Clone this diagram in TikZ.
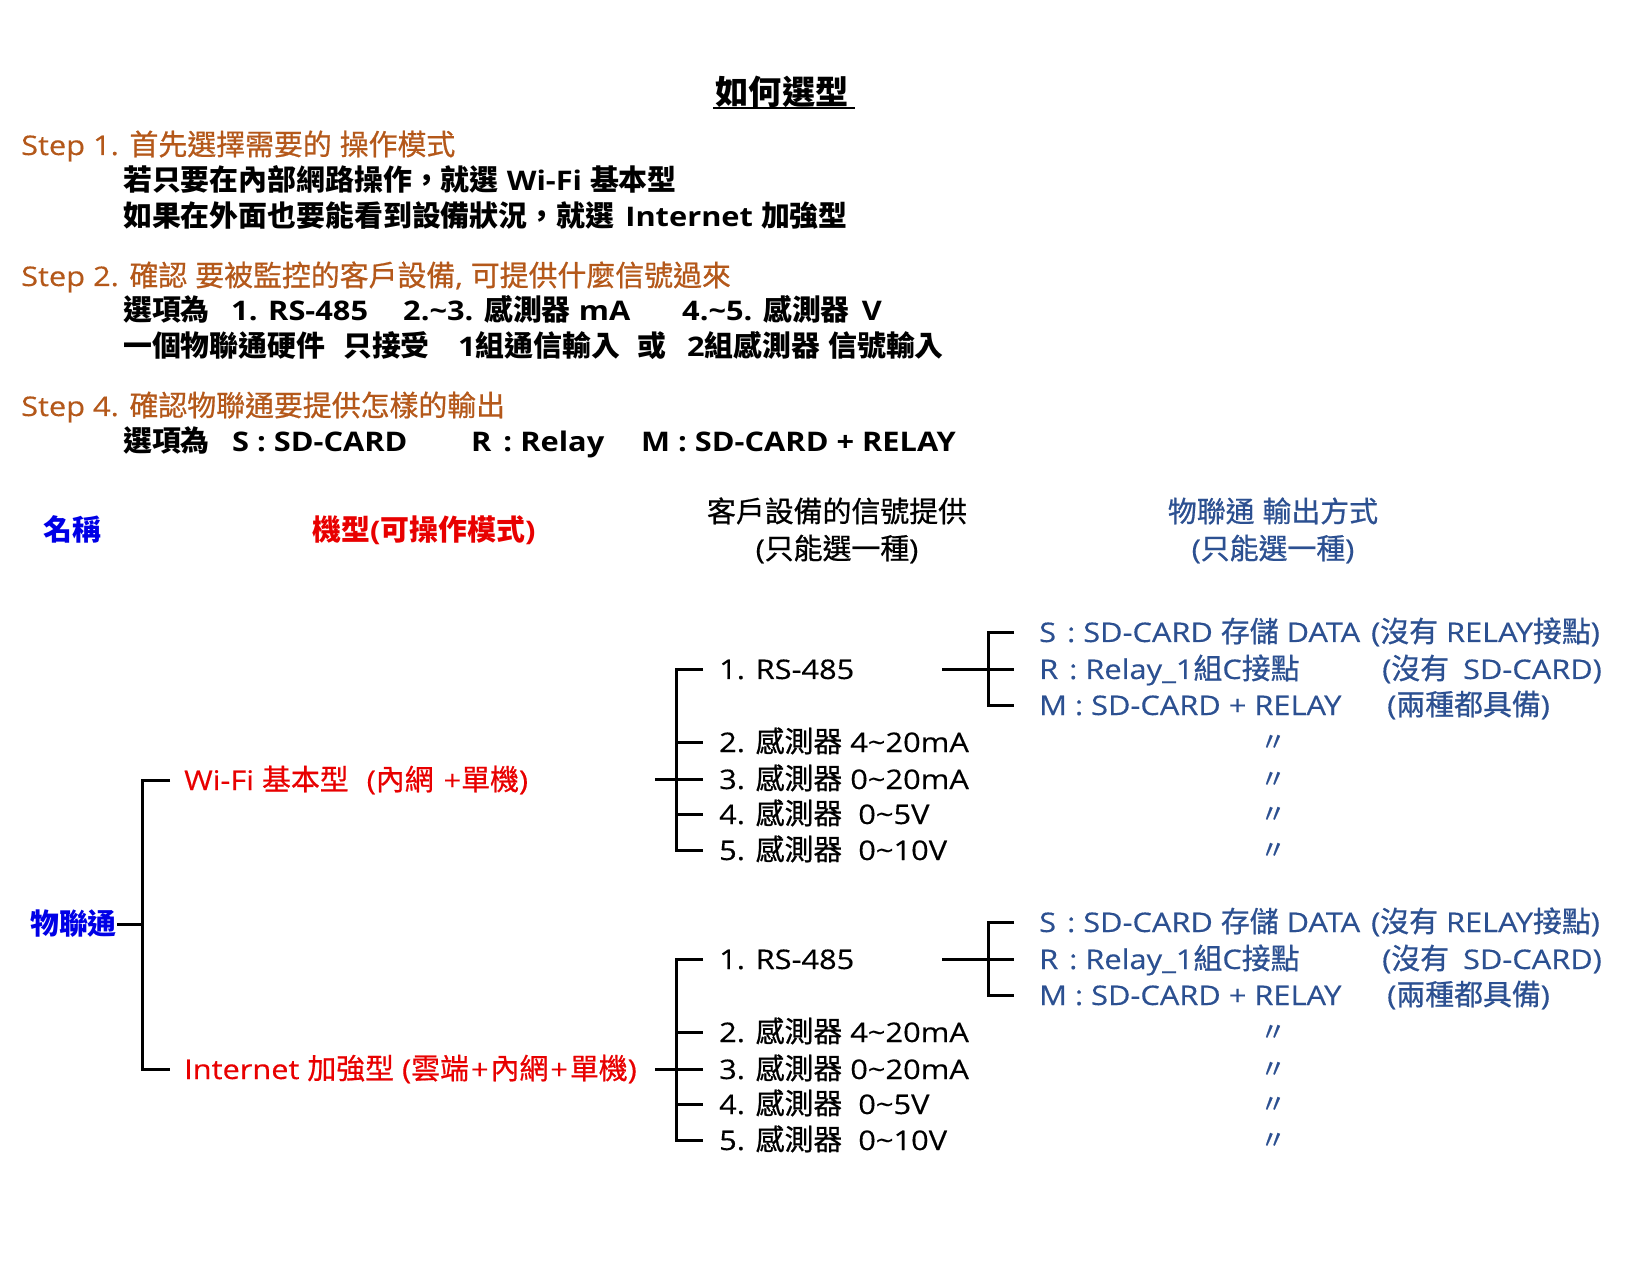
\documentclass[tikz,border=0pt]{standalone}
\usepackage{fontspec}
\setmainfont{Open Sans}[FakeStretch=1.14, UprightFeatures={FakeBold=0.4}]
\newfontfamily\cjkf{Noto Sans CJK TC}[Scale=1.07, UprightFeatures={FakeBold=0.7}]
\XeTeXinterchartokenstate=1
\newXeTeXintercharclass\CJKcls
\newcount\cjkcnt
\def\setcjkrange#1#2{\cjkcnt=#1\relax\loop\ifnum\cjkcnt<#2\relax\XeTeXcharclass\cjkcnt=\CJKcls\advance\cjkcnt by 1\relax\repeat}
\setcjkrange{"3000}{"3040}
\setcjkrange{"4E00}{"A000}
\setcjkrange{"FF00}{"FFF0}
\XeTeXinterchartoks 0 \CJKcls = {\cjkf}
\XeTeXinterchartoks 4095 \CJKcls = {\cjkf}
\XeTeXinterchartoks \CJKcls 0 = {\rmfamily}
\XeTeXinterchartoks \CJKcls 4095 = {\rmfamily}
\newcommand\fsz[1]{\fontsize{#1}{#1}\selectfont}
\definecolor{brn}{RGB}{180,88,26}
\definecolor{pblue}{RGB}{0,0,230}
\definecolor{pred}{RGB}{232,0,0}
\definecolor{sblue}{RGB}{44,80,145}
\tikzset{
  lt/.style={anchor=base west, inner sep=0pt, font=\fsz{#1}, yshift={-0.37*#1pt}},
  ltb/.style={anchor=base west, inner sep=0pt, font=\fsz{#1}\bfseries, yshift={-0.37*#1pt}},
  ct/.style={anchor=base, inner sep=0pt, font=\fsz{#1}, yshift={-0.37*#1pt}},
  ctb/.style={anchor=base, inner sep=0pt, font=\fsz{#1}\bfseries, yshift={-0.37*#1pt}},
  ln/.style={line width=3pt, line join=miter, black},
}
\begin{document}
\begin{tikzpicture}[x=1pt,y=-1pt]
\useasboundingbox[fill=white] (0,0) rectangle (1650,1275);
% title
\node[ctb=31] (title) at (782,93) {如何選型};
\coordinate (ulA) at (713,108);
\coordinate (ulB) at (855,108);
\draw[line width=2pt] (ulA) -- (ulB);
% steps
\node[lt=27, text=brn] (s1) at (21,145) {Step 1. 首先選擇需要的 操作模式};
\node[ltb=27] (s1a) at (123,181) {若只要在內部網路操作，就選 Wi-Fi 基本型};
\node[ltb=27] (s1b) at (123,217) {如果在外面也要能看到設備狀況，就選\hspace{11pt}Internet 加強型};
\node[lt=27, text=brn] (s2) at (21,276) {Step 2. 確認 要被監控的客戶設備, 可提供什麼信號過來};
\node[ltb=27] (s2a) at (123,311) {選項為};
\node[ltb=27] (s2b) at (231,311) {1. RS-485};
\node[ltb=27] (s2c) at (403,311) {2.\textasciitilde 3. 感測器 mA};
\node[ltb=27] (s2d) at (682,311) {4.\textasciitilde 5. 感測器\hspace{12pt}V};
\node[ltb=27] (s2e) at (123,347) {一個物聯通硬件};
\node[ltb=27] (s2f) at (343,347) {只接受};
\node[ltb=27] (s2g) at (458,347) {1組通信輸入};
\node[ltb=27] (s2h) at (637,347) {或};
\node[ltb=27] (s2i) at (687,347) {2組感測器 信號輸入};
\node[lt=27, text=brn] (s4) at (21,406) {Step 4. 確認物聯通要提供怎樣的輸出};
\node[ltb=27] (s4a) at (123,442) {選項為};
\node[ltb=27] (s4b) at (232,442) {S : SD-CARD};
\node[ltb=27] (s4c) at (471,442) {R\hspace{4pt} : Relay};
\node[ltb=27] (s4d) at (641,442) {M : SD-CARD + RELAY};
% headers
\node[ctb=27, text=pblue] (h1) at (72,531) {名稱};
\node[ctb=27, text=pred] (h2) at (424,531) {機型(可操作模式)};
\node[ct=27] (h3) at (837,512) {客戶設備的信號提供};
\node[ct=27] (h3b) at (837,549) {(只能選一種)};
\node[ct=27, text=sblue] (h4) at (1273,512) {物聯通 輸出方式};
\node[ct=27, text=sblue] (h4b) at (1273,549) {(只能選一種)};
% root
\node[ltb=27, text=pblue] (root) at (30,924) {物聯通};
\coordinate (b1m) at (142,924);
\coordinate (b1t) at (170,780);
\coordinate (b1tc) at (142,780);
\coordinate (b1bc) at (142,1069);
\coordinate (b1b) at (170,1069);
\draw[ln] (b1t) -- (b1tc) -- (b1bc) -- (b1b);
\draw[ln] (root.east |- b1m) -- (b1m);
\node[lt=27, text=pred] (modA) at (184,780) {Wi-Fi 基本型\hspace{18pt}(內網\hspace{10pt}+單機)};
\node[lt=27, text=pred] (modB) at (184,1069) {Internet 加強型 (雲端\hspace{2pt}+\hspace{2pt}內網\hspace{2pt}+\hspace{2pt}單機)};
\foreach \o/\n in {0/A,290/B} {
  \coordinate (in\n) at (655,779+\o);
  \coordinate (tc\n) at (676,669+\o);
  \coordinate (bc\n) at (676,850+\o);
  \coordinate (t1\n) at (703,669+\o);
  \coordinate (t2\n) at (703,742+\o);
  \coordinate (t3\n) at (703,779+\o);
  \coordinate (t4\n) at (703,814+\o);
  \coordinate (t5\n) at (703,850+\o);
  \draw[ln] (t1\n) -- (tc\n) -- (bc\n) -- (t5\n);
  \draw[ln] (in\n) -- (t3\n);
  \draw[ln] (t2\n -| tc\n) -- (t2\n);
  \draw[ln] (t4\n -| tc\n) -- (t4\n);
  \node[lt=27] (i1\n) at (719,669+\o) {1. RS-485};
  \node[lt=27] (i2\n) at (719,742+\o) {2. 感測器 4\textasciitilde 20mA};
  \node[lt=27] (i3\n) at (719,779+\o) {3. 感測器 0\textasciitilde 20mA};
  \node[lt=27] (i4\n) at (719,814+\o) {4. 感測器\hspace{16pt}0\textasciitilde 5V};
  \node[lt=27] (i5\n) at (719,850+\o) {5. 感測器\hspace{16pt}0\textasciitilde 10V};
  \coordinate (rin\n) at (942,669+\o);
  \coordinate (rtc\n) at (988,632+\o);
  \coordinate (rbc\n) at (988,705+\o);
  \coordinate (r1\n) at (1014,632+\o);
  \coordinate (r2\n) at (1014,669+\o);
  \coordinate (r3\n) at (1014,705+\o);
  \draw[ln] (r1\n) -- (rtc\n) -- (rbc\n) -- (r3\n);
  \draw[ln] (rin\n) -- (r2\n);
  \node[lt=27, text=sblue] (o1\n) at (1039,632+\o) {S\hspace{3pt} : SD-CARD 存儲 DATA\hspace{3pt} (沒有 RELAY接點)};
  \node[lt=27, text=sblue] (o2\n) at (1039,669+\o) {R\hspace{3pt} : Relay\_1組C接點};
  \node[lt=27, text=sblue] (o2b\n) at (1382,669+\o) {(沒有\hspace{14pt}SD-CARD)};
  \node[lt=27, text=sblue] (o3\n) at (1039,705+\o) {M : SD-CARD + RELAY};
  \node[lt=27, text=sblue] (o3b\n) at (1387,705+\o) {(兩種都具備)};
  \node[ct=24, text=sblue] (d2\n) at (1273,742+\o) {〃};
  \node[ct=24, text=sblue] (d3\n) at (1273,779+\o) {〃};
  \node[ct=24, text=sblue] (d4\n) at (1273,814+\o) {〃};
  \node[ct=24, text=sblue] (d5\n) at (1273,850+\o) {〃};
}
\end{tikzpicture}
\end{document}
